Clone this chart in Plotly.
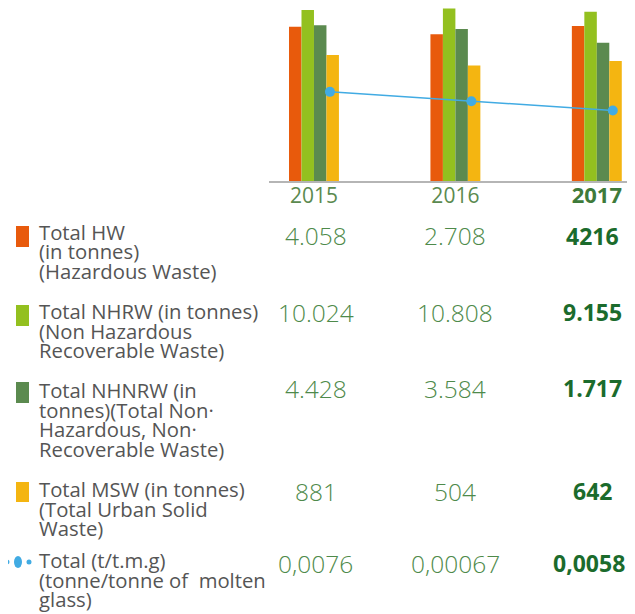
import plotly.graph_objects as go

# ---------------- data ----------------
years = ["2015", "2016", "2017"]
hw = [4058, 2708, 4216]          # Total HW (t)
nhrw = [10024, 10808, 9155]      # Total NHRW (t)
nhnrw = [4428, 3584, 1717]       # Total NHNRW (t)
msw = [881, 504, 642]            # Total MSW (t)
ratio = [0.0076, 0.0067, 0.0058] # t / t.m.g (line, as plotted)

hw_txt = ["4.058", "2.708", "4216"]
nhrw_txt = ["10.024", "10.808", "9.155"]
nhnrw_txt = ["4.428", "3.584", "1.717"]
msw_txt = ["881", "504", "642"]
ratio_txt = ["0,0076", "0,00067", "0,0058"]

legend_lines = [
    ["Total HW", "(in tonnes)", "(Hazardous Waste)"],
    ["Total NHRW (in tonnes)", "(Non Hazardous", "Recoverable Waste)"],
    ["Total NHNRW (in", "tonnes)(Total Non·", "Hazardous, Non·", "Recoverable Waste)"],
    ["Total MSW (in tonnes)", "(Total Urban Solid", "Waste)"],
    ["Total (t/t.m.g)", "(tonne/tonne of\u00a0 molten", "glass)"],
]

# ---------------- style ----------------
O = 8                              # page body margin offset
W, H = 635 - O, 614 - O
L = 269 - O                        # plot area left (figure px)
PB = 181 - O                       # plot area bottom (figure px), top at 0
PW = W - L
C_HW, C_NHRW, C_NHNRW, C_MSW = "#E85A0C", "#93C01F", "#5B8A4F", "#F4B511"
C_LINE = "#41ABE3"
C_NUM, C_BOLD, C_TXT = "#4E8A4A", "#1B6B2C", "#555555"
FONT = "Open Sans"


def px(x):          # reference page x -> paper
    return (x - O - L) / PW


def py(y):          # reference page y -> paper
    return (PB - (y - O)) / PB


fig = go.Figure()
for name, vals, col in [("Total HW", hw, C_HW), ("Total NHRW", nhrw, C_NHRW),
                        ("Total NHNRW", nhnrw, C_NHNRW), ("Total MSW", msw, C_MSW)]:
    fig.add_trace(go.Bar(x=years, y=vals, base=1, name=name, marker_color=col,
                         marker_line_width=0))

fig.add_trace(go.Scatter(x=years, y=ratio, mode="lines+markers", xaxis="x2", yaxis="y2",
                         line=dict(color=C_LINE, width=1.5),
                         marker=dict(color=C_LINE, size=10)))

xr = [-0.318, 2.27]
shift = 0.113
fig.update_layout(
    width=W, height=H, autosize=False,
    margin=dict(l=L, r=0, t=0, b=H - PB, pad=0),
    paper_bgcolor="white", plot_bgcolor="white",
    showlegend=False, barmode="group", bargap=0.647, bargroupgap=0,
    font=dict(family=FONT),
    xaxis=dict(type="category", range=xr, showline=True, linecolor="#B5B5B5", linewidth=1.5,
               showgrid=False, zeroline=False, ticks="", ticklabelstandoff=-5,
               tickvals=years,
               ticktext=["2015", "2016",
                         "<span style='font-weight:bold;font-size:22px;color:#3E7A3A'>2017</span>"],
               tickfont=dict(size=21, color="#5B8A4F", family=FONT)),
    xaxis2=dict(type="category", overlaying="x", range=[xr[0] - shift, xr[1] - shift],
                visible=False, categoryarray=years),
    yaxis=dict(type="log", range=[0, PB / 42.74], visible=False, showgrid=False),
    yaxis2=dict(overlaying="y", range=[-10.2 / 10389, (PB - 10.2) / 10389],
                visible=False, showgrid=False),
)

annotations = []
num_rows = [hw_txt, nhrw_txt, nhnrw_txt, msw_txt, ratio_txt]
num_y = [235.5, 312, 388, 491, 563]
col_shift = [2, 0, -4]
for r, (row, yy) in enumerate(zip(num_rows, num_y)):
    for i, t in enumerate(row):
        bold = i == 2
        xs = col_shift[i] - (4 if (bold and r == len(num_rows) - 1) else 0)
        annotations.append(dict(
            x=i, xref="x", y=py(yy), yref="paper", text=t, showarrow=False,
            xanchor="center", yanchor="middle", xshift=xs,
            font=dict(family=FONT, size=23 if bold else 24.5,
                      color=C_BOLD if bold else C_NUM,
                      weight=700 if bold else 300)))

first_base = [240.7, 320, 399, 498, 569]
LS = 19.6
for lines, b0 in zip(legend_lines, first_base):
    for k, t in enumerate(lines):
        annotations.append(dict(
            x=px(37), xref="paper", y=py(b0 + k * LS - 9), yref="paper", text=t,
            showarrow=False, xanchor="left", yanchor="middle",
            font=dict(family=FONT, size=20.3, color=C_TXT)))
fig.update_layout(annotations=annotations)

shapes = []
rects = [(226, 247, C_HW), (305, 326, C_NHRW), (382, 403, C_NHNRW), (482, 502, C_MSW)]
for y0, y1, col in rects:
    shapes.append(dict(type="rect", xref="paper", yref="paper", x0=px(16), x1=px(29),
                       y0=py(y1), y1=py(y0), fillcolor=col, line_width=0))
for cx, rx, ry in [(7, 2.5, 2.5), (18, 4, 6), (29, 2.5, 2.5)]:
    shapes.append(dict(type="circle", xref="paper", yref="paper", x0=px(cx - rx), x1=px(cx + rx),
                       y0=py(562 + ry), y1=py(562 - ry), fillcolor=C_LINE, line_width=0))
fig.update_layout(shapes=shapes)

fig.write_html("out.html")
